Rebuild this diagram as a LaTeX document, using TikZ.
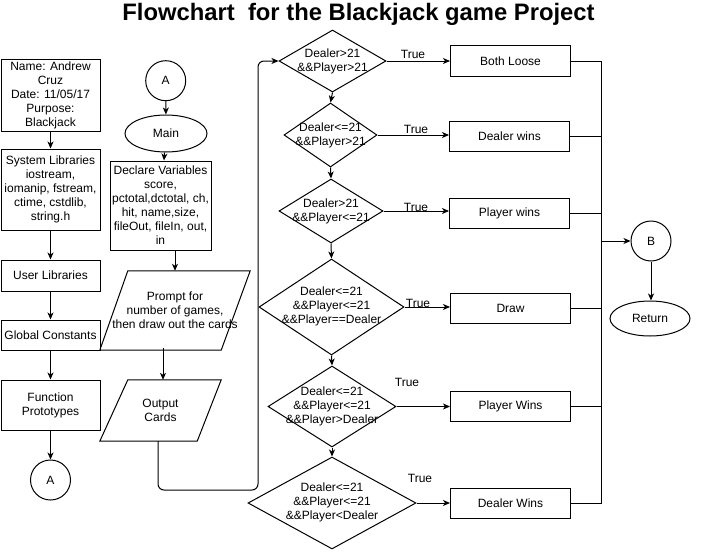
\documentclass[tikz,border=0pt]{standalone}
\usepackage{fontspec}
\setmainfont{Liberation Sans}
\usetikzlibrary{arrows.meta,shapes.geometric}
\begin{document}
\begin{tikzpicture}[x=1pt,y=-1pt,
  every node/.style={font=\fontsize{12}{14}\selectfont, inner sep=0pt},
  box/.style={draw, line width=1pt, align=center},
  res/.style={box, minimum width=120, minimum height=30},
  dia/.style={draw, diamond, line width=1pt, inner sep=0pt},
  circ/.style={draw, circle, line width=1pt, minimum size=40},
  ell/.style={draw, ellipse, line width=1pt},
  lbl/.style={align=center},
  ln/.style={line width=1pt},
  arr/.style={line width=1pt, -{Stealth[length=7pt,width=6pt,inset=2pt]}}
]
\useasboundingbox (0,0) rectangle (703,551);
\node[font=\fontsize{23.8}{26}\selectfont\bfseries] (title) at (358.5,14) {Flowchart\ \ for the Blackjack game Project};

% left column
\node[box, minimum width=99, minimum height=72] (name) at (50.5,95) {Name: Andrew\\Cruz\\Date: 11/05/17\\Purpose:\\Blackjack};
\node[box, minimum width=99, minimum height=81] (sys) at (50.5,189.5) {System Libraries\\iostream,\\iomanip, fstream,\\ctime, cstdlib,\\string.h};
\node[box, minimum width=99, minimum height=31] (usr) at (50.5,275.5) {User Libraries};
\node[box, minimum width=99, minimum height=30] (glob) at (50.5,335) {Global Constants};
\node[box, minimum width=99, minimum height=50] (proto) at (50.5,405) {Function\\Prototypes};
\node[circ] (a2) at (50.5,480) {A};

\draw[arr] (name) -- (sys);
\draw[arr] (sys) -- (usr);
\draw[arr] (usr) -- (glob);
\draw[arr] (glob) -- (proto);
\draw[arr] (proto) -- (a2);

% second column
\node[circ] (a1) at (165.7,80.7) {A};
\node[ell, minimum width=82, minimum height=37] (main) at (166,133.5) {Main};
\node[box, minimum width=101, minimum height=89] (decl) at (160.5,205.5) {Declare Variables\\score,\\pctotal,dctotal, ch,\\hit, name,size,\\fileOut, fileIn, out,\\in};
\node[lbl, minimum width=150, minimum height=79] (pr) at (175,310.5) {Prompt for\\number of games,\\then draw out the cards};
\draw[ln] (pr.south west) -- ([xshift=28]pr.north west) -- (pr.north east) -- ([xshift=-29]pr.south east) -- cycle;
\node[lbl, minimum width=121, minimum height=61] (oc) at (160.5,410.5) {Output\\Cards};
\draw[ln] (oc.south west) -- ([xshift=28]oc.north west) -- (oc.north east) -- ([xshift=-24]oc.south east) -- cycle;

\draw[arr] (a1) -- (main);
\draw[arr] (main) -- (decl);
\draw[arr] (decl.south -| pr) -- (pr.north);
\draw[arr] ([yshift=2]pr.south -| 163,0) -- (oc.north -| 163,0);

% diamonds
\node[dia, minimum width=107, minimum height=62] (d1) at (332.5,61) {};
\node[lbl] (t1) at (d1) {Dealer>21\\\&\&Player>21};
\node[dia, minimum width=93, minimum height=64] (d2) at (330.5,135) {};
\node[lbl] (t2) at (d2) {Dealer<=21\\\&\&Player>21};
\node[dia, minimum width=104, minimum height=64] (d3) at (331,211) {};
\node[lbl] (t3) at (d3) {Dealer>21\\\&\&Player<=21};
\node[dia, minimum width=145, minimum height=96] (d4) at (331.5,307) {};
\node[lbl] (t4) at ([yshift=1]d4) {Dealer<=21\\\&\&Player<=21\\\&\&Player==Dealer};
\node[dia, minimum width=128, minimum height=81] (d5) at (332,406.5) {};
\node[lbl] (t5) at ([yshift=0.5]d5) {Dealer<=21\\\&\&Player<=21\\\&\&Player>Dealer};
\node[dia, minimum width=168, minimum height=92] (d6) at (332,503) {};
\node[lbl] (t6) at ([yshift=0.5]d6) {Dealer<=21\\\&\&Player<=21\\\&\&Player<Dealer};

\draw[arr, rounded corners=6] ([xshift=-2.5]oc.south) |- (258,490) |- (d1.west);
\draw[arr] (d1.south) -- (d2.north);
\draw[arr] (d2.south) -- (d3.north);
\draw[arr] (d3.south) -- (d4.north);
\draw[arr] (d4.south) -- (d5.north);
\draw[arr] (d5.south) -- (d6.north);

% results
\node[res] (r1) at (510.5,61) {Both Loose};
\node[res] (r2) at (509.5,136) {Dealer wins};
\node[res] (r3) at (509.5,213) {Player wins};
\node[res] (r4) at (510.5,308) {Draw};
\node[res] (r5) at (510.5,406) {Player Wins};
\node[res] (r6) at (510.5,503) {Dealer Wins};

\draw[arr] (d1.east) -- (r1.west);
\draw[arr] (d2.east) -- (d2.east -| r2.west);
\draw[arr] (d3.east) -- (d3.east -| r3.west);
\draw[arr] (d4.east) -- (d4.east -| r4.west);
\draw[arr] (d5.east) -- (d5.east -| r5.west);
\draw[arr] (d6.east) -- (d6.east -| r6.west);

\node (tr1) at (413,54) {True};
\node (tr2) at (416,129) {True};
\node (tr3) at (416,207) {True};
\node (tr4) at (418,303) {True};
\node (tr5) at (407,382) {True};
\node (tr6) at (420,478) {True};

% bus
\coordinate (btop) at (601,61);
\coordinate (bbot) at (601,503);
\draw[ln] (r1.east) -- (btop) -- (bbot) -- (r6.east);
\draw[ln] (r2.east) -- (r2.east -| btop);
\draw[ln] (r3.east) -- (r3.east -| btop);
\draw[ln] (r4.east) -- (r4.east -| btop);
\draw[ln] (r5.east) -- (r5.east -| btop);

\node[circ] (b) at (651,241) {B};
\node[ell, minimum width=80, minimum height=35] (ret) at (650,318.5) {Return};
\draw[arr] (b.west -| btop) -- (b.west);
\draw[arr] (b.south) -- (b.south |- ret.north);
\end{tikzpicture}
\end{document}
